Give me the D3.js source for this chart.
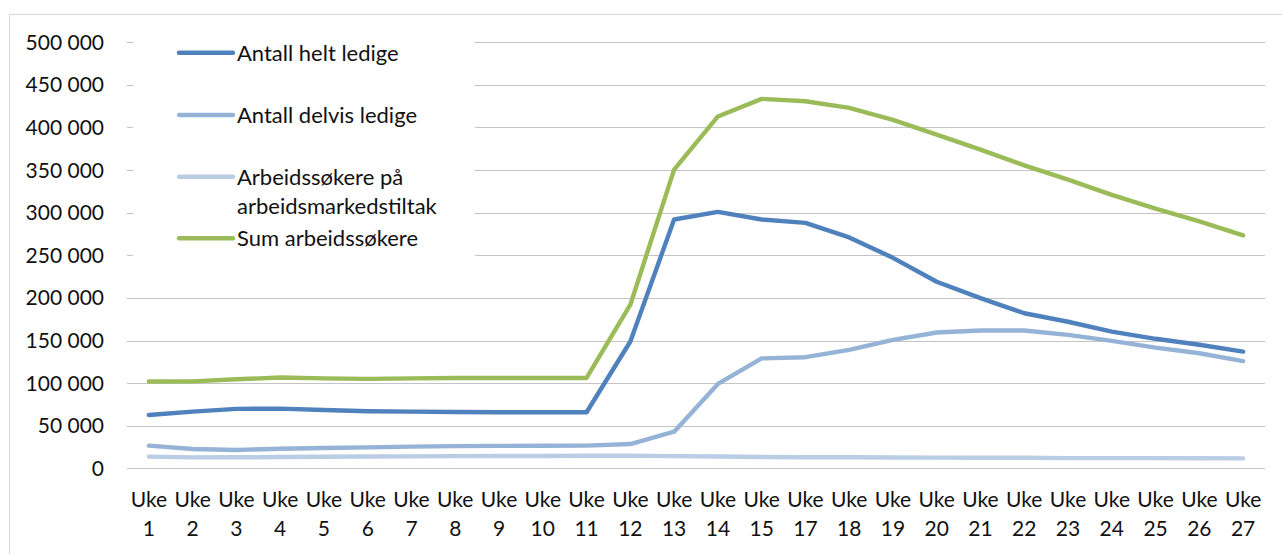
<!DOCTYPE html>
<html><head><meta charset="utf-8">
<script src="https://cdn.jsdelivr.net/npm/d3@7"></script>
<style>
html,body{margin:0;padding:0;background:#fff;}
svg{display:block;}
text{font-family:Lato,"Open Sans",sans-serif;fill:#111;}
</style></head>
<body>
<svg id="c" width="1282" height="554"></svg>
<script>
const weeks = [1,2,3,4,5,6,7,8,9,10,11,12,13,14,15,17,18,19,20,21,22,23,24,25,26,27];
const categories = weeks.map(w => "Uke " + w);
const heltLedige = [62600, 66500, 69700, 70000, 68500, 67000, 66500, 66000, 65800, 65800, 65800, 148800, 292000, 301000, 292000, 288000, 271000, 247000, 219000, 199700, 182000, 172000, 160500, 152000, 145000, 137000];
const delvisLedige = [26600, 22700, 21500, 23000, 23800, 24600, 25400, 26000, 26300, 26400, 26600, 28500, 43000, 99000, 129000, 130400, 139000, 150800, 159400, 161700, 161700, 156600, 149600, 141700, 135000, 125700];
const tiltak = [13700, 12800, 12900, 13200, 13500, 13800, 14000, 14300, 14500, 14500, 14700, 14800, 14300, 13800, 13300, 13000, 12900, 12700, 12500, 12400, 12300, 12000, 12000, 12000, 11800, 11700];
const sumSokere = [101800, 102000, 104500, 106500, 105500, 105000, 105500, 106000, 106000, 106000, 106000, 192000, 350500, 413000, 433600, 430800, 423000, 409000, 391600, 374000, 355600, 338800, 321000, 304700, 289800, 273400];
const yTicks = [0, 50000, 100000, 150000, 200000, 250000, 300000, 350000, 400000, 450000, 500000];
const seriesNames = [["Antall helt ledige"], ["Antall delvis ledige"], ["Arbeidssøkere på", "arbeidsmarkedstiltak"], ["Sum arbeidssøkere"]];
const colors = ["#4F81BD", "#95B3D7", "#B9CDE5", "#9BBB59"];
const seriesValues = [heltLedige, delvisLedige, tiltak, sumSokere];

(function () {
const svg = d3.select("#c");
const pLeft = 127, pRight = 1265, pTop = 42.3, pBottom = 468.3;

svg.append("rect").attr("x", 9.5).attr("y", 14.5).attr("width", 1290).attr("height", 560)
  .attr("fill", "#fff").attr("stroke", "#d9d9d9").attr("stroke-width", 1);

const x = d3.scalePoint().domain(categories).range([pLeft, pRight]).padding(0.5);
const y = d3.scaleLinear().domain([0, 500000]).range([pBottom, pTop]);

const loc = d3.formatLocale({decimal: ",", thousands: "\u00a0", grouping: [3], currency: ["", ""]});
const fmt = loc.format(",d");

// gridlines
svg.append("g").selectAll("line").data(yTicks).join("line")
  .attr("x1", pLeft).attr("x2", pRight)
  .attr("y1", d => Math.round(y(d)) + 0.5).attr("y2", d => Math.round(y(d)) + 0.5)
  .attr("stroke", "#c4c4c4").attr("stroke-width", 1.2);

// y labels
svg.append("g").selectAll("text").data(yTicks).join("text")
  .attr("x", 104).attr("y", d => y(d) + 7.5)
  .attr("text-anchor", "end").attr("font-size", 21)
  .text(d => fmt(d));

// x labels
const xl = svg.append("g").selectAll("text").data(categories).join("text")
  .attr("text-anchor", "middle").attr("font-size", 21)
  .attr("transform", d => `translate(${x(d)},0)`);
xl.append("tspan").attr("x", 0).attr("y", pBottom + 39).text(d => d.split(" ")[0]);
xl.append("tspan").attr("x", 0).attr("y", pBottom + 67.4).text(d => d.split(" ")[1]);

// lines
const line = d3.line().x((d, i) => x(categories[i])).y(d => y(d));
svg.append("g").selectAll("path").data(seriesValues).join("path")
  .attr("d", d => line(d))
  .attr("fill", "none")
  .attr("stroke", (d, i) => colors[i])
  .attr("stroke-width", 4.4)
  .attr("stroke-linecap", "round")
  .attr("stroke-linejoin", "round");

// legend
const lg = svg.append("g");
lg.append("rect").attr("x", 133).attr("y", 30).attr("width", 342).attr("height", 238).attr("fill", "#fff");
const legendY = [52.7, 115, 176.7, 238.3];
seriesNames.forEach((names, i) => {
  lg.append("line").attr("x1", 179).attr("x2", 233)
    .attr("y1", legendY[i]).attr("y2", legendY[i])
    .attr("stroke", colors[i]).attr("stroke-width", 4.4).attr("stroke-linecap", "round");
  const t = lg.append("text").attr("font-size", 22);
  names.forEach((n, j) => {
    t.append("tspan").attr("x", 237).attr("y", legendY[i] + 8 + j * 29).text(n);
  });
});
})();
</script>
</body></html>
